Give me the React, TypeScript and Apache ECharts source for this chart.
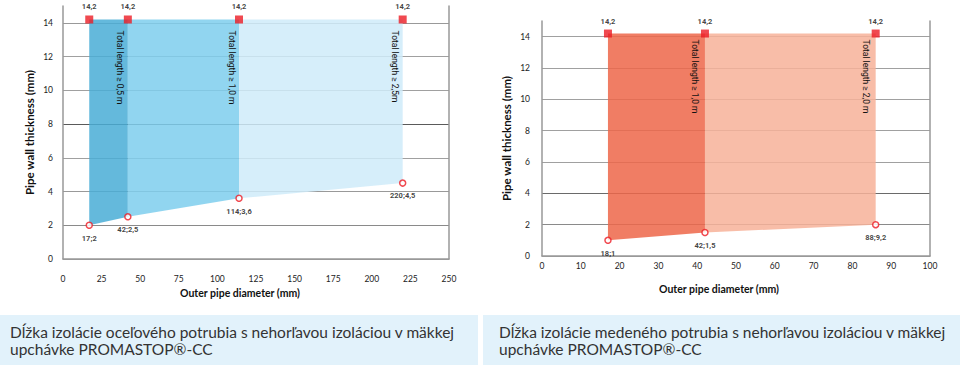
import React, { useEffect, useRef } from "react";
import * as echarts from "echarts";

// ---- data (steel pipe, left chart) ----
const steelX = [17, 42, 114, 220];
const steelBottom = [2, 2.5, 3.6, 4.5];
const steelTop = [14.2, 14.2, 14.2, 14.2];
const steelPointLabels = ["17;2", "42;2,5", "114;3,6", "220;4,5"];
const steelTopLabels = ["14,2", "14,2", "14,2", "14,2"];
const steelLengthLabels = ["Total length ≥ 0,5 m", "Total length ≥ 1,0 m", "Total length ≥ 2,5m"];
const steelColors = ["#49ADD6", "#7ECEED", "#CFEBF9"];

// ---- data (copper pipe, right chart) ----
const copperX = [17, 42, 86];
const copperBottom = [1, 1.5, 2];
const copperTop = [14.2, 14.2, 14.2];
const copperPointLabels = ["18;1", "42;1,5", "88;9,2"];
const copperTopLabels = ["14,2", "14,2", "14,2"];
const copperLengthLabels = ["Total length ≥ 1,0 m", "Total length ≥ 2,0 m"];
const copperColors = ["#ED6649", "#F7B299"];

const yAxisName = "Pipe wall thickness (mm)";
const xAxisName = "Outer pipe diameter (mm)";
const captionLeft = "Dĺžka izolácie oceľového potrubia s nehorľavou izoláciou v mäkkej\nupchávke PROMASTOP®-CC";
const captionRight = "Dĺžka izolácie medeného potrubia s nehorľavou izoláciou v mäkkej\nupchávke PROMASTOP®-CC";

const RED = "#EC1C24";
const SMALL_FONT = "Roboto";

function bands(xs: number[], bottoms: number[], tops: number[]) {
  const out: number[][] = [];
  for (let i = 0; i < xs.length - 1; i++) {
    out.push([xs[i], xs[i + 1], bottoms[i], bottoms[i + 1], tops[i]]);
  }
  return out;
}

function fillSeries(gridIdx: number, xs: number[], bottoms: number[], tops: number[], colors: string[]) {
  return {
    type: "custom",
    xAxisIndex: gridIdx,
    yAxisIndex: gridIdx * 2,
    z: 1,
    silent: true,
    encode: { x: [0, 1], y: [2, 3, 4] },
    data: bands(xs, bottoms, tops),
    renderItem: (params: any, api: any) => {
      const x1 = api.value(0), x2 = api.value(1), b1 = api.value(2), b2 = api.value(3), t = api.value(4);
      const pts = [api.coord([x1, t]), api.coord([x2, t]), api.coord([x2, b2]), api.coord([x1, b1])];
      return {
        type: "polygon",
        shape: { points: pts },
        style: { fill: colors[params.dataIndex], opacity: 0.85 },
      };
    },
  };
}

function topSeries(gridIdx: number, xs: number[], tops: number[], labels: string[], dist: number) {
  return {
    type: "scatter",
    xAxisIndex: gridIdx,
    yAxisIndex: gridIdx * 2,
    z: 5,
    symbol: "rect",
    symbolSize: 8,
    itemStyle: { color: RED },
    label: {
      show: true,
      position: "top",
      distance: dist,
      formatter: (p: any) => labels[p.dataIndex],
      fontFamily: SMALL_FONT,
      fontWeight: "bold",
      fontSize: 7.5,
      color: "#111",
    },
    data: xs.map((x, i) => [x, tops[i]]),
  };
}

function pointSeries(gridIdx: number, xs: number[], ys: number[], labels: string[]) {
  return {
    type: "scatter",
    xAxisIndex: gridIdx,
    yAxisIndex: gridIdx * 2,
    z: 5,
    symbol: "circle",
    symbolSize: 6,
    itemStyle: { color: "#fff", borderColor: RED, borderWidth: 1.5 },
    label: {
      show: true,
      position: "bottom",
      distance: 5,
      formatter: (p: any) => labels[p.dataIndex],
      fontFamily: SMALL_FONT,
      fontWeight: "bold",
      fontSize: 7.5,
      color: "#111",
    },
    data: xs.map((x, i) => [x, ys[i]]),
  };
}

const tickLabel = { fontFamily: "Lato", fontSize: 8.5, color: "#222" };

function yAxes(gridIdx: number, lineColors: string[], margin: number, nameGap: number) {
  return [
    {
      type: "value",
      gridIndex: gridIdx,
      min: 0,
      max: 15,
      interval: 2,
      name: yAxisName,
      nameLocation: "middle",
      nameGap,
      nameTextStyle: { fontFamily: "Lato", fontWeight: "bold", fontSize: 11.5, color: "#111" },
      axisLine: { show: true, lineStyle: { color: "#999", width: 1.5 } },
      axisTick: { show: false },
      axisLabel: { ...tickLabel, margin, showMaxLabel: false },
      splitLine: { show: true, showMaxLine: false, lineStyle: { color: lineColors, width: 1 } },
    },
    {
      type: "value",
      gridIndex: gridIdx,
      position: "right",
      min: 0,
      max: 15,
      axisLine: { show: true, lineStyle: { color: "#999", width: 1.5 } },
      axisTick: { show: false },
      axisLabel: { show: false },
      splitLine: { show: false },
    },
  ];
}

export default function App() {
  const ref = useRef<HTMLDivElement>(null);
  useEffect(() => {
    if (!ref.current) return;
    const chart = echarts.init(ref.current, null, { renderer: "svg" });
    const option: any = {
      animation: false,
      backgroundColor: "#fff",
      grid: [
        { left: 63, right: 511, top: 6, bottom: 106 },
        { left: 542, right: 30, top: 21, bottom: 109 },
      ],
      xAxis: [
        {
          type: "value",
          gridIndex: 0,
          min: 0,
          max: 250,
          interval: 25,
          name: xAxisName,
          nameLocation: "middle",
          nameGap: 24,
          nameTextStyle: { fontFamily: "Lato", fontWeight: "bold", fontSize: 10.5, color: "#111", padding: [0, 32, 0, 0] },
          axisLine: { show: true, onZero: false, lineStyle: { color: "#999", width: 1.5 } },
          axisTick: { show: false },
          axisLabel: { ...tickLabel, margin: 15 },
          splitLine: { show: false },
        },
        {
          type: "value",
          gridIndex: 1,
          min: 0,
          max: 100,
          interval: 10,
          name: xAxisName,
          nameLocation: "middle",
          nameGap: 27,
          nameTextStyle: { fontFamily: "Lato", fontWeight: "bold", fontSize: 10.5, color: "#111", padding: [0, 34, 0, 0] },
          axisLine: { show: true, onZero: false, lineStyle: { color: "#999", width: 1.5 } },
          axisTick: { show: false },
          axisLabel: { ...tickLabel, margin: 5 },
          splitLine: { show: false },
        },
      ],
      yAxis: [
        ...yAxes(0, ["#999", "#8a8a8a", "#999", "#a0a0a0", "#5a5a5a", "#a0a0a0", "#a0a0a0", "#999"], 10, 28),
        ...yAxes(1, ["#999", "#8a8a8a", "#6a6a6a", "#a0a0a0", "#a0a0a0", "#a0a0a0", "#a0a0a0", "#a0a0a0"], 12, 30),
      ],
      series: [
        fillSeries(0, steelX, steelBottom, steelTop, steelColors),
        topSeries(0, steelX, steelTop, steelTopLabels, 5),
        pointSeries(0, steelX, steelBottom, steelPointLabels),
        fillSeries(1, copperX, copperBottom, copperTop, copperColors),
        topSeries(1, copperX, copperTop, copperTopLabels, 4),
        pointSeries(1, copperX, copperBottom, copperPointLabels),
      ],
    };
    chart.setOption(option);

    const elements: any[] = [
      { type: "rect", left: 0, top: 315, shape: { width: 478, height: 50 }, style: { fill: "#E2F2FB" }, z: 0 },
      { type: "rect", left: 483, top: 315, shape: { width: 477, height: 50 }, style: { fill: "#E2F2FB" }, z: 0 },
      {
        type: "text", x: 10, y: 323, z: 1,
        style: { text: captionLeft, font: "15.5px Lato", lineHeight: 17, fill: "#333", verticalAlign: "top" },
      },
      {
        type: "text", x: 499, y: 323, z: 1,
        style: { text: captionRight, font: "15.5px Lato", lineHeight: 17, fill: "#333", verticalAlign: "top" },
      },
    ];
    const addLengthLabels = (gridIdx: number, xs: number[], tops: number[], labels: string[], dx: number, dy: number) => {
      labels.forEach((t, i) => {
        const p = chart.convertToPixel({ gridIndex: gridIdx } as any, [xs[i + 1], tops[i + 1]]) as number[];
        elements.push({
          type: "text",
          x: p[0] + dx,
          y: p[1] + dy,
          rotation: -Math.PI / 2,
          z: 10,
          style: { text: t, font: "8.5px Roboto", fill: "#111", align: "left", verticalAlign: "top" },
        });
      });
    };
    addLengthLabels(0, steelX, steelTop, steelLengthLabels, -3, 11);
    addLengthLabels(1, copperX, copperTop, copperLengthLabels, -5, 6);
    chart.setOption({ graphic: { elements } });

    return () => chart.dispose();
  }, []);
  return <div ref={ref} style={{ position: "fixed", left: 0, top: 0, width: 960, height: 365 }} />;
}
